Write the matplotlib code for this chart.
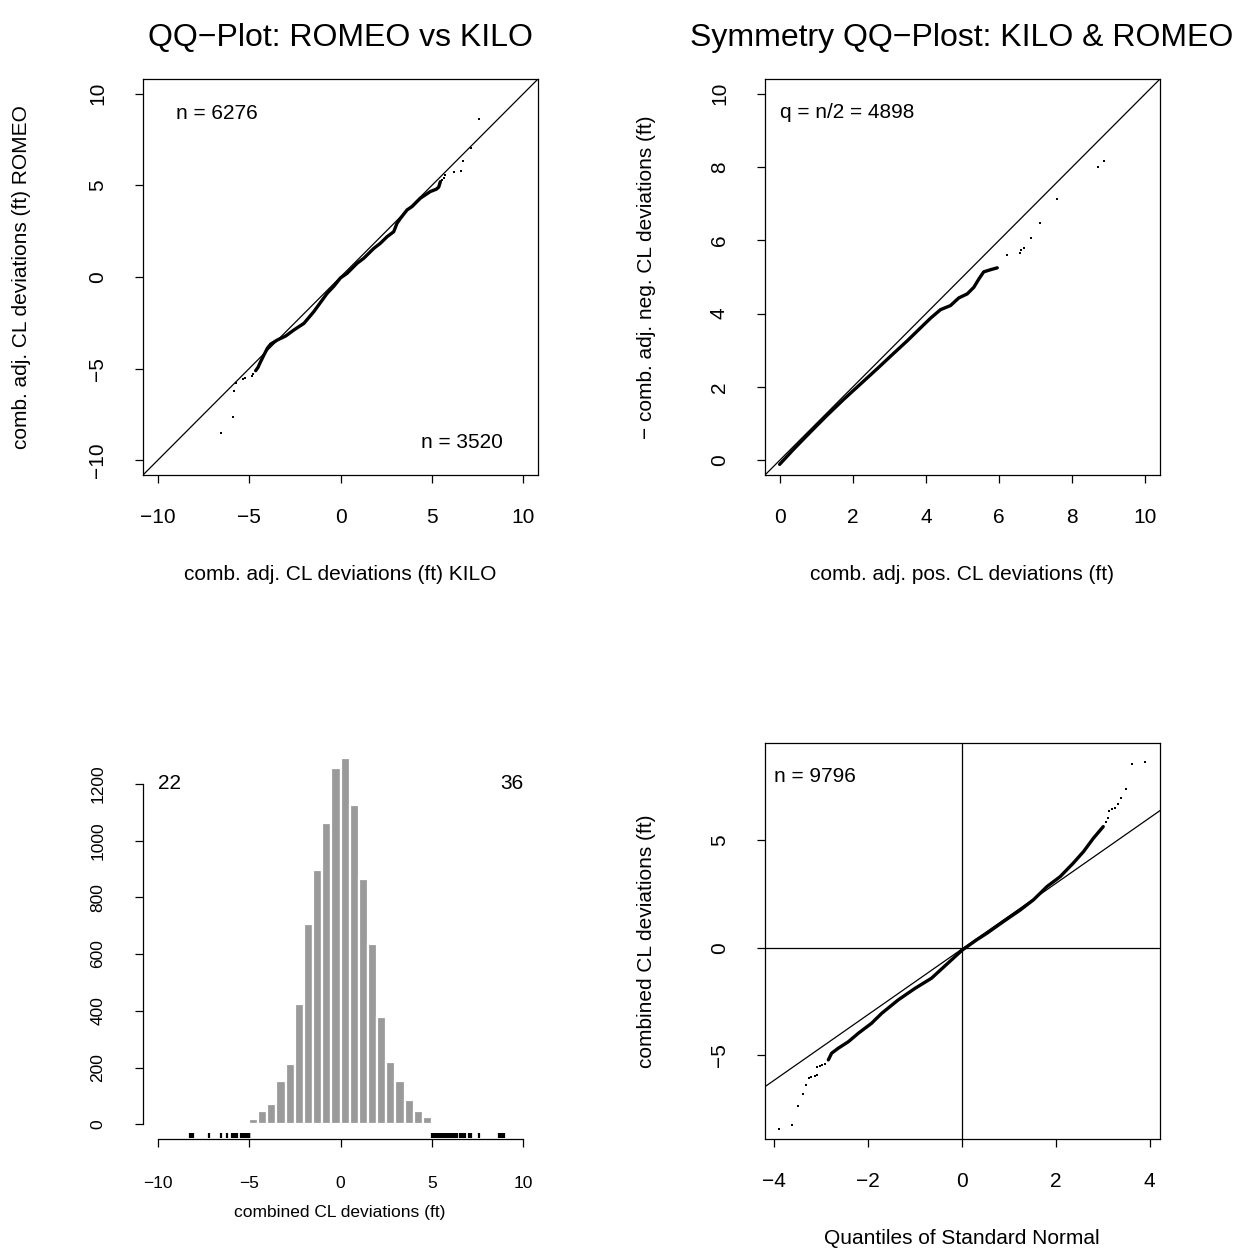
import matplotlib
matplotlib.use("Agg")
import matplotlib.pyplot as plt

plt.rcParams['font.family'] = ['Liberation Sans', 'DejaVu Sans']
plt.rcParams['axes.unicode_minus'] = True

W, H, DPI = 1243, 1249, 100

# ---------------- data ----------------
# QQ-plot ROMEO vs KILO: dense central run of quantile pairs
kr_band_x = [-4.64, -4.51, -4.37, -4.19, -4.00, -3.82, -3.46, -3.00, -2.55, -2.00,
             -1.46, -0.73, -0.36, 0.00, 0.36, 0.91, 1.27, 1.82, 2.18, 2.55,
             2.91, 3.09, 3.28, 3.64, 3.91, 4.37, 4.64, 4.91, 5.24, 5.37, 5.46]
kr_band_y = [-5.11, -4.93, -4.62, -4.26, -3.89, -3.66, -3.44, -3.22, -2.89, -2.53,
             -1.89, -0.89, -0.50, -0.05, 0.20, 0.75, 1.02, 1.56, 1.84, 2.20,
             2.47, 2.93, 3.20, 3.66, 3.84, 4.30, 4.48, 4.66, 4.79, 4.90, 5.20]
# isolated quantile pairs in both tails
kr_tail_x = [-6.55, -5.86, -5.82, -5.73, -5.33, -5.24, -4.86, -4.77,
             5.57, 5.64, 5.69, 6.19, 6.59, 6.68, 7.11, 7.57]
kr_tail_y = [-8.50, -7.62, -6.20, -5.80, -5.58, -5.53, -5.39, -5.31,
             5.29, 5.42, 5.57, 5.71, 5.77, 6.35, 7.06, 8.64]

# Symmetry QQ-plot: positive deviations vs negated negative deviations
sym_band_x = [0.00, 0.39, 0.85, 1.30, 1.76, 2.21, 2.67, 3.12, 3.49, 3.85,
              4.13, 4.40, 4.67, 4.90, 5.13, 5.31, 5.45, 5.58, 5.77, 5.95]
sym_band_y = [-0.11, 0.31, 0.78, 1.23, 1.67, 2.08, 2.50, 2.92, 3.26, 3.61,
              3.88, 4.11, 4.22, 4.43, 4.54, 4.72, 4.95, 5.14, 5.20, 5.25]
sym_tail_x = [6.21, 6.56, 6.61, 6.69, 6.86, 7.13, 7.59, 8.71, 8.86]
sym_tail_y = [5.59, 5.65, 5.74, 5.78, 6.06, 6.48, 7.12, 7.99, 8.16]

# Histogram of combined deviations (bin width 0.5 ft)
hist_edges_left = [-5.5, -5.0, -4.5, -4.0, -3.5, -3.0, -2.5, -2.0, -1.5, -1.0, -0.5, 0.0,
                   0.5, 1.0, 1.5, 2.0, 2.5, 3.0, 3.5, 4.0, 4.5, 5.0, 5.5]
hist_counts = [5, 18, 47, 71, 153, 212, 424, 705, 896, 1062, 1255, 1292,
               1124, 865, 635, 378, 220, 151, 87, 46, 24, 9, 6]
bin_width = 0.5
# observations beyond +/-5 ft, shown as a rug
rug_low = [-8.25, -8.18, -8.05, -7.20, -6.55, -6.20, -5.92, -5.86, -5.80, -5.74, -5.68,
           -5.45, -5.38, -5.32, -5.26, -5.20, -5.15, -5.10, -5.06, -5.03, -5.01, -5.00]
rug_high = [5.00, 5.04, 5.08, 5.12, 5.16, 5.20, 5.25, 5.30, 5.35, 5.40, 5.45, 5.50,
            5.56, 5.62, 5.68, 5.74, 5.80, 5.86, 5.92, 5.98, 6.04, 6.10, 6.20, 6.28,
            6.36, 6.55, 6.64, 6.72, 6.80, 7.02, 7.16, 7.55, 8.65, 8.75, 8.85, 8.92]
n_low_label, n_high_label = "22", "36"

# Normal QQ-plot of combined deviations
nq_band_x = [-2.85, -2.78, -2.64, -2.42, -2.21, -1.93, -1.71, -1.36, -1.00, -0.65,
             -0.29, 0.00, 0.31, 0.53, 0.88, 1.24, 1.52, 1.81, 2.09, 2.37, 2.59, 2.80, 3.01]
nq_band_y = [-5.22, -4.91, -4.68, -4.37, -3.98, -3.52, -3.05, -2.43, -1.89, -1.42,
             -0.70, -0.12, 0.36, 0.67, 1.21, 1.75, 2.22, 2.84, 3.30, 3.93, 4.47, 5.09, 5.63]
nq_tail_x = [-3.90, -3.62, -3.49, -3.40, -3.33, -3.26, -3.21, -3.13, -3.10, -3.09, -3.03,
             -2.98, -2.92, 3.06, 3.11, 3.13, 3.19, 3.26, 3.32, 3.39, 3.49, 3.62, 3.89]
nq_tail_y = [-8.42, -8.26, -7.38, -6.79, -6.37, -6.05, -6.00, -5.95, -5.91, -5.53, -5.50,
             -5.47, -5.42, 5.86, 6.02, 6.37, 6.44, 6.48, 6.67, 6.95, 7.40, 8.53, 8.65]
qqline_intercept, qqline_slope = -0.06, 1.525

# ---------------- drawing ----------------
fig = plt.figure(figsize=(W / DPI, H / DPI), dpi=DPI)
LW = 0.9
FS = 15
FS_SMALL = 12.5


def add_axes_px(left, top, right, bottom):
    return fig.add_axes([left / W, 1 - bottom / H, (right - left) / W, (bottom - top) / H])


def ftext(x, y, s, **kw):
    fig.text(x / W, 1 - y / H, s, **kw)


def r_axes(ax, xticks, yticks, fs=FS, xpad=18, ypad=20):
    ax.set_xticks(xticks)
    ax.set_yticks(yticks)
    for s in ax.spines.values():
        s.set_linewidth(LW)
        s.set_color('black')
    ax.tick_params(direction='out', length=6, width=LW, labelsize=fs, colors='black')
    ax.tick_params(axis='x', pad=xpad)
    ax.tick_params(axis='y', pad=ypad, labelrotation=90)
    for lbl in ax.get_yticklabels():
        lbl.set_verticalalignment('center')
    ax.set_facecolor('white')


def qq_marks(ax, bx, by, tx, ty):
    ax.plot(bx, by, color='black', lw=2.4, solid_capstyle='round', solid_joinstyle='round')
    ax.scatter(tx, ty, s=4.5, marker='s', color='black', linewidths=0)


# --- top left: ROMEO vs KILO
ax1 = add_axes_px(143, 79, 538, 475)
ax1.set_xlim(-10.8, 10.8)
ax1.set_ylim(-10.8, 10.8)
ax1.axline((0, 0), slope=1, color='black', lw=LW)
qq_marks(ax1, kr_band_x, kr_band_y, kr_tail_x, kr_tail_y)
r_axes(ax1, [-10, -5, 0, 5, 10], [-10, -5, 0, 5, 10])
ax1.text(-9.0, 8.9, "n = 6276", fontsize=FS, ha='left', va='center')
ax1.text(8.9, -9.05, "n = 3520", fontsize=FS, ha='right', va='center')

# --- top right: symmetry plot
ax2 = add_axes_px(765, 79, 1160, 475)
ax2.set_xlim(-0.4, 10.4)
ax2.set_ylim(-0.4, 10.4)
ax2.axline((0, 0), slope=1, color='black', lw=LW)
qq_marks(ax2, sym_band_x, sym_band_y, sym_tail_x, sym_tail_y)
r_axes(ax2, [0, 2, 4, 6, 8, 10], [0, 2, 4, 6, 8, 10])
ax2.text(0.0, 9.5, "q = n/2 = 4898", fontsize=FS, ha='left', va='center')

# --- bottom left: histogram with rug
ax3 = add_axes_px(143, 743, 538, 1139)
ax3.set_xlim(-10.8, 10.8)
ax3.set_ylim(-52, 1344)
ax3.bar(hist_edges_left, hist_counts, width=bin_width, align='edge',
        color='#9a9a9a', edgecolor='white', linewidth=1.6)
ax3.vlines(rug_low + rug_high, -47, -32, color='black', lw=1.6)
r_axes(ax3, [-10, -5, 0, 5, 10], [0, 200, 400, 600, 800, 1000, 1200], fs=FS_SMALL,
       xpad=21, ypad=21)
ax3.spines['top'].set_visible(False)
ax3.spines['right'].set_visible(False)
ax3.spines['bottom'].set_bounds(-10, 10)
ax3.spines['left'].set_bounds(0, 1200)
ax3.text(-10, 1200, n_low_label, fontsize=FS, ha='left', va='center')
ax3.text(10, 1200, n_high_label, fontsize=FS, ha='right', va='center')

# --- bottom right: normal QQ-plot
ax4 = add_axes_px(765, 743, 1160, 1139)
ax4.set_xlim(-4.2, 4.22)
ax4.set_ylim(-8.9, 9.52)
ax4.axhline(0, color='black', lw=LW)
ax4.axvline(0, color='black', lw=LW)
ax4.axline((0, qqline_intercept), slope=qqline_slope, color='black', lw=LW)
qq_marks(ax4, nq_band_x, nq_band_y, nq_tail_x, nq_tail_y)
r_axes(ax4, [-4, -2, 0, 2, 4], [-5, 0, 5])
ax4.text(-4.0, 7.95, "n = 9796", fontsize=FS, ha='left', va='center')

# --- titles and axis labels
ftext(340, 38, "QQ\u2212Plot: ROMEO vs KILO", fontsize=23, ha='center', va='center')
ftext(962, 38, "Symmetry QQ\u2212Plost: KILO & ROMEO", fontsize=23, ha='center', va='center')
ftext(340, 575, "comb. adj. CL deviations (ft) KILO", fontsize=FS, ha='center', va='center')
ftext(962, 575, "comb. adj. pos. CL deviations (ft)", fontsize=FS, ha='center', va='center')
ftext(340, 1212, "combined CL deviations (ft)", fontsize=FS_SMALL, ha='center', va='center')
ftext(962, 1238, "Quantiles of Standard Normal", fontsize=FS, ha='center', va='center')
ftext(22, 277, "comb. adj. CL deviations (ft) ROMEO", fontsize=FS, rotation=90,
      ha='center', va='center')
ftext(647, 277, "\u2212 comb. adj. neg. CL deviations (ft)", fontsize=FS, rotation=90,
      ha='center', va='center')
ftext(647, 941, "combined CL deviations (ft)", fontsize=FS, rotation=90,
      ha='center', va='center')

fig.savefig("out.png", dpi=DPI, facecolor='white')
